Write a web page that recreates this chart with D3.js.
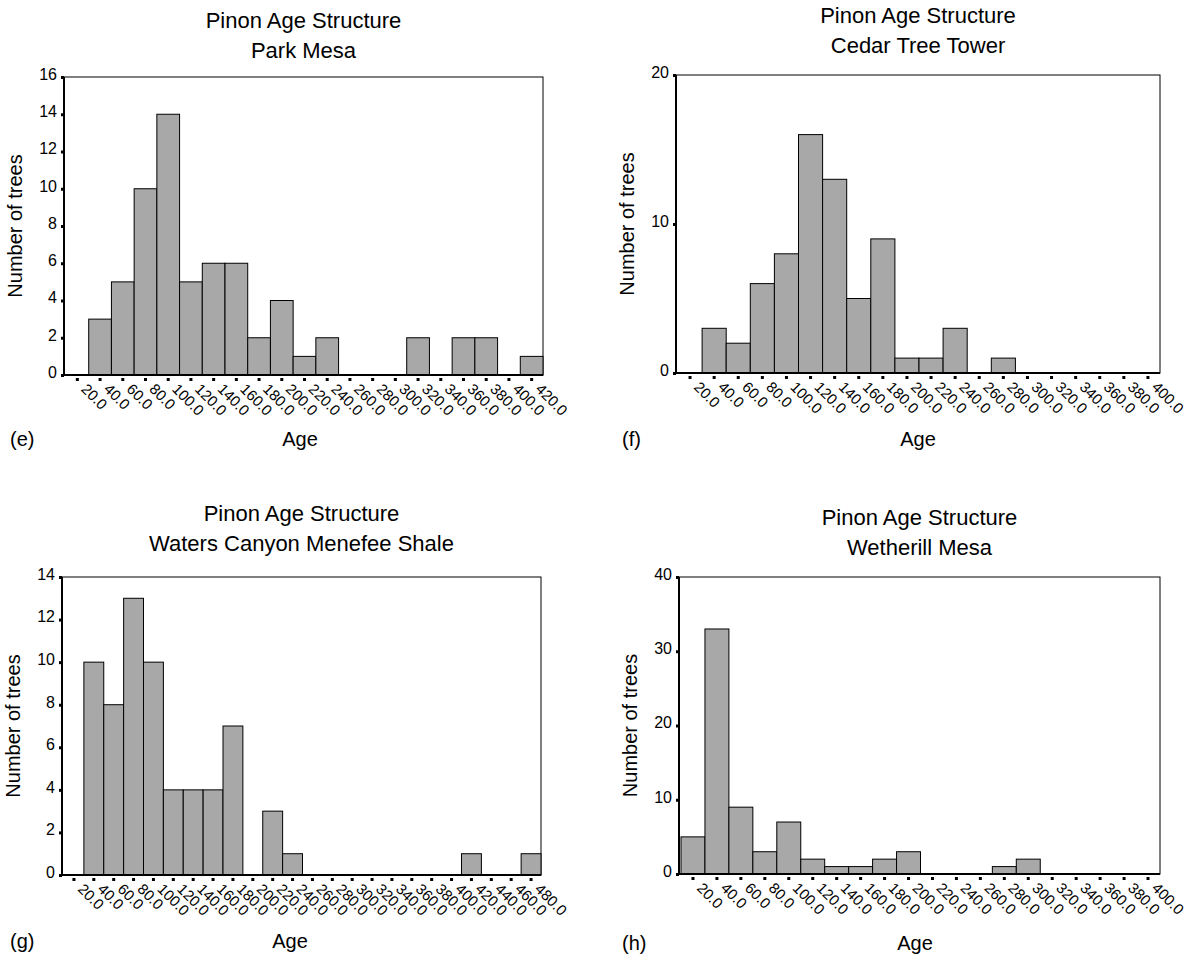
<!DOCTYPE html>
<html>
<head>
<meta charset="utf-8">
<script src="https://cdn.jsdelivr.net/npm/d3@7"></script>
<style>
  body { margin: 0; background: #fff; }
  svg { display: block; font-family: "Liberation Sans", Arial, sans-serif; }
</style>
</head>
<body>
<svg id="chart" width="1190" height="954"></svg>
<script>
// bin mid-points (age, years) and tree counts
const binsE = ['20.0','40.0','60.0','80.0','100.0','120.0','140.0','160.0','180.0','200.0','220.0',
  '240.0','260.0','280.0','300.0','320.0','340.0','360.0','380.0','400.0','420.0'];
const countsE = [0,3,5,10,14,5,6,6,2,4,1,2,0,0,0,2,0,2,2,0,1];

const binsF = ['20.0','40.0','60.0','80.0','100.0','120.0','140.0','160.0','180.0','200.0','220.0',
  '240.0','260.0','280.0','300.0','320.0','340.0','360.0','380.0','400.0'];
const countsF = [0,3,2,6,8,16,13,5,9,1,1,3,0,1,0,0,0,0,0,0];

const binsG = ['20.0','40.0','60.0','80.0','100.0','120.0','140.0','160.0','180.0','200.0','220.0',
  '240.0','260.0','280.0','300.0','320.0','340.0','360.0','380.0','400.0','420.0','440.0','460.0','480.0'];
const countsG = [0,10,8,13,10,4,4,4,7,0,3,1,0,0,0,0,0,0,0,0,1,0,0,1];

const binsH = ['20.0','40.0','60.0','80.0','100.0','120.0','140.0','160.0','180.0','200.0','220.0',
  '240.0','260.0','280.0','300.0','320.0','340.0','360.0','380.0','400.0'];
const countsH = [5,33,9,3,7,2,1,1,2,3,0,0,0,1,2,0,0,0,0,0];

const yTicksE = [0,2,4,6,8,10,12,14,16];
const yTicksF = [0,10,20];
const yTicksG = [0,2,4,6,8,10,12,14];
const yTicksH = [0,10,20,30,40];

const titleTop = 'Pinon Age Structure';
const sites = ['Park Mesa', 'Cedar Tree Tower', 'Waters Canyon Menefee Shale', 'Wetherill Mesa'];
const letters = ['(e)', '(f)', '(g)', '(h)'];

const panels = [
  { bins: binsE, counts: countsE, ticks: yTicksE, site: sites[0], letter: letters[0],
    box: { l: 64, r: 543, t: 77, b: 375 }, titleY: 28, ageX: 300, ageY: 446, letX: 10 },
  { bins: binsF, counts: countsF, ticks: yTicksF, site: sites[1], letter: letters[1],
    box: { l: 676, r: 1160, t: 75, b: 373 }, titleY: 23, ageX: 918, ageY: 446, letX: 622 },
  { bins: binsG, counts: countsG, ticks: yTicksG, site: sites[2], letter: letters[2],
    box: { l: 62, r: 541, t: 577, b: 875 }, titleY: 521, ageX: 290, ageY: 948, letX: 10 },
  { bins: binsH, counts: countsH, ticks: yTicksH, site: sites[3], letter: letters[3],
    box: { l: 679, r: 1160, t: 577, b: 874 }, titleY: 525, ageX: 915, ageY: 950, letX: 622 }
];

const svg = d3.select('#chart');

panels.forEach(drawPanel);

function drawPanel(p) {
  const { l, r, t, b } = p.box;
  const g = svg.append('g');

  const x = d3.scaleBand().domain(p.bins).range([l + 2, r]).paddingInner(0).paddingOuter(0);
  const y = d3.scaleLinear().domain([0, d3.max(p.ticks)]).range([b, t]);
  const data = p.bins.map((k, i) => ({ bin: k, n: p.counts[i] }));

  // titles
  const cx = (l + r) / 2;
  g.append('text').attr('x', cx).attr('y', p.titleY).attr('text-anchor', 'middle')
    .attr('font-size', 22).text(titleTop);
  g.append('text').attr('x', cx).attr('y', p.titleY + 30).attr('text-anchor', 'middle')
    .attr('font-size', 22).text(p.site);

  // frame
  g.append('rect').attr('x', l).attr('y', t).attr('width', r - l).attr('height', b - t)
    .attr('fill', 'none').attr('stroke', '#000').attr('stroke-width', 1);

  // bars (empty bins are not drawn)
  g.append('g').selectAll('rect')
    .data(data.filter(d => d.n > 0))
    .join('rect')
      .attr('x', d => x(d.bin))
      .attr('y', d => y(d.n))
      .attr('width', x.bandwidth())
      .attr('height', d => y(0) - y(d.n))
      .attr('fill', '#a8a8a8')
      .attr('stroke', '#000')
      .attr('stroke-width', 1);

  // y axis
  const ya = g.append('g').attr('transform', `translate(${l},0)`)
    .call(d3.axisLeft(y).tickValues(p.ticks).tickSize(3).tickPadding(4).tickFormat(d3.format('d')));
  ya.select('.domain').attr('stroke-width', 2).attr('d', `M0,${b + 1}V${t}`);
  ya.selectAll('.tick line').attr('stroke-width', 3);
  ya.selectAll('.tick text').attr('font-size', 16).attr('font-family', 'Liberation Sans, Arial, sans-serif')
    .attr('fill', '#000').attr('dy', '0.15em');

  // x axis: baseline, square tick dots and slanted labels
  const xa = g.append('g').attr('transform', `translate(0,${b})`)
    .call(d3.axisBottom(x).tickSize(0).tickPadding(0));
  xa.select('.domain').attr('stroke-width', 2).attr('d', `M${l - 1},0H${r}`);
  xa.selectAll('.tick').append('rect')
    .attr('x', -1.5).attr('y', 3).attr('width', 3).attr('height', 3).attr('fill', '#000');
  xa.selectAll('.tick text')
    .attr('font-size', 15).attr('font-family', 'Liberation Sans, Arial, sans-serif').attr('fill', '#000')
    .attr('text-anchor', 'start').attr('dy', 0).attr('y', 0)
    .attr('transform', 'translate(3,15) rotate(45)');

  // axis titles
  g.append('text')
    .attr('transform', `translate(${l - 42},${(t + b) / 2}) rotate(-90)`)
    .attr('text-anchor', 'middle').attr('font-size', 20).text('Number of trees');
  g.append('text').attr('x', p.ageX).attr('y', p.ageY).attr('text-anchor', 'middle')
    .attr('font-size', 20).text('Age');
  g.append('text').attr('x', p.letX).attr('y', p.ageY).attr('font-size', 20).text(p.letter);
}
</script>
</body>
</html>
